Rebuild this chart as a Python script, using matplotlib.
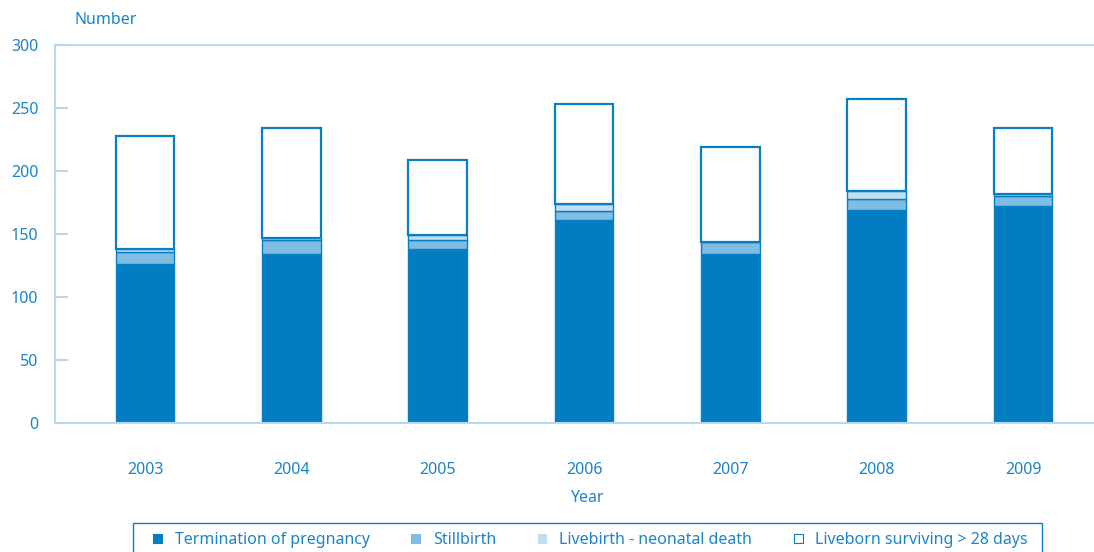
import matplotlib
matplotlib.use("Agg")
import matplotlib.pyplot as plt
from matplotlib.patches import Patch, Rectangle
import numpy as np

years = ["2003", "2004", "2005", "2006", "2007", "2008", "2009"]
termination = [126, 134, 138, 161, 134, 169, 172]
stillbirth = [10, 11, 7, 7, 10, 9, 8]
neonatal = [2, 2, 4, 6, 0, 6, 2]
surviving = [90, 87, 60, 79, 75, 73, 52]
series_labels = ["Termination of pregnancy", "Stillbirth",
                 "Livebirth - neonatal death", "Liveborn surviving > 28 days"]

TXT = "#1a84c7"
DARK = "#027dc2"
MID = "#80bde2"
LIGHT = "#c0def0"
EDGE = "#0a7ec4"
AX = "#b6d9ef"

plt.rcParams['font.family'] = ['Noto Sans', 'DejaVu Sans']
FS = 11.5

fig = plt.figure(figsize=(10.94, 5.52), dpi=100)
ax = fig.add_axes([55/1094, 1 - 423/552, 1 - 55/1094, (423-45)/552])

x = np.arange(len(years))
w = 0.40
series = [termination, stillbirth, neonatal, surviving]
colors = [DARK, MID, LIGHT, "white"]
bottom = np.zeros(len(years))
for vals, col in zip(series, colors):
    vals = np.array(vals, dtype=float)
    lw = 1.6 if col == "white" else 1.0
    ax.bar(x, vals, w, bottom=bottom, color=col, edgecolor=EDGE, linewidth=lw)
    bottom += vals

ax.set_xlim(-0.615, 6.485)
ax.set_ylim(0, 300)
ax.set_yticks([0, 50, 100, 150, 200, 250, 300])
ax.set_xticks(x)
ax.set_xticklabels(years)

ax.spines["right"].set_visible(False)
for s in ["left", "top", "bottom"]:
    ax.spines[s].set_color(AX)
    ax.spines[s].set_linewidth(1.5)

ax.tick_params(axis="y", direction="in", length=9, width=1.5, color=AX,
               labelcolor=TXT, labelsize=FS, pad=12)
ax.tick_params(axis="x", length=0, labelcolor=TXT, labelsize=FS, pad=28)

fig.text(74/1094, 1 - 20/552, "Number", color=TXT, fontsize=FS, ha="left", va="center")
fig.text(587/1094, 1 - 498/552, "Year", color=TXT, fontsize=FS, ha="center", va="center")

# legend frame
fig.patches.append(Rectangle((133/1094, 1 - 562/552), (1042-133)/1094, (562-523)/552,
                             transform=fig.transFigure, facecolor="white",
                             edgecolor=EDGE, linewidth=1.0, zorder=1))

handles = [Patch(facecolor=c, edgecolor=(EDGE if c == "white" else c), linewidth=0.8)
           for c in colors]
leg = fig.legend(handles, series_labels, loc="center left", ncol=4, mode="expand",
                 bbox_to_anchor=(153/1094, 1 - 540/552, (1028-153)/1094, 0.0),
                 frameon=False, fontsize=FS, handlelength=0.55,
                 handleheight=0.55, handletextpad=0.8, borderpad=0.0,
                 labelcolor=TXT, borderaxespad=0)
leg.set_zorder(2)

fig.savefig("out.png", dpi=100)
